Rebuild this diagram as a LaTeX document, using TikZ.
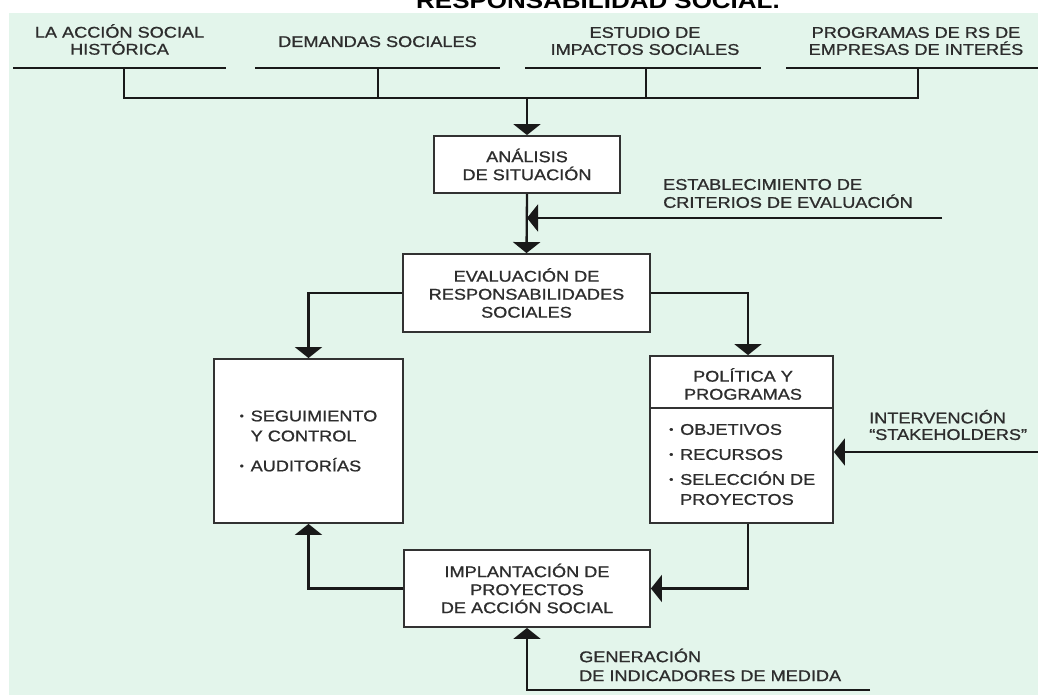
\documentclass[tikz,border=0pt]{standalone}
\usepackage{fontspec}
\setmainfont[FakeStretch=1.17,FakeBold=1]{Liberation Sans}
\newfontfamily\titlefont[FakeStretch=1.17]{Liberation Sans}
\usetikzlibrary{arrows.meta,calc}
\definecolor{bg}{RGB}{227,245,235}
\definecolor{ink}{RGB}{25,25,25}
\definecolor{boxline}{RGB}{50,50,50}
\definecolor{txt}{RGB}{45,45,45}
\newcommand\bul{\makebox[11pt][l]{\raisebox{2pt}{\scalebox{0.65}{•}}}}
\begin{document}
\begin{tikzpicture}[x=1pt,y=-1pt,
  font=\fontsize{15.5}{18}\selectfont, text=txt,
  box/.style={draw=boxline, line width=1.8pt, fill=white, inner sep=0pt, align=center},
  conn/.style={draw=ink, line width=2.3pt},
  arr/.style={conn, -{Triangle[width=27pt,length=11pt]}},
  lbl/.style={align=center, inner sep=0pt},
  toplbl/.style={align=center, inner sep=0pt, font=\fontsize{15.5}{17}\selectfont},
  lbll/.style={align=left, inner sep=0pt, anchor=west}]
\useasboundingbox (0,0) rectangle (1038,695);
\fill[white] (0,0) rectangle (1038,695);
\fill[bg] (9,13) rectangle (1038,695);
\node[anchor=base, inner sep=0pt, font=\titlefont\fontsize{22.2}{24}\selectfont\bfseries, text=black] (title) at (598,9) {RESPONSABILIDAD SOCIAL.};

% top labels
\node[toplbl] (t1) at (119.5,39.5) {LA ACCIÓN SOCIAL\\HISTÓRICA};
\node[toplbl, anchor=base] (t2) at (377.5,47) {DEMANDAS SOCIALES};
\node[toplbl] (t3) at (645,41) {ESTUDIO DE\\IMPACTOS SOCIALES};
\node[toplbl] (t4) at (916,41) {PROGRAMAS DE RS DE\\EMPRESAS DE INTERÉS};

% top lines
\coordinate (l1a) at (13,68);  \coordinate (l1b) at (226,68);
\coordinate (l2a) at (255,68); \coordinate (l2b) at (500,68);
\coordinate (l3a) at (525,68); \coordinate (l3b) at (761,68);
\coordinate (l4a) at (786,68); \coordinate (l4b) at (1038,68);
\coordinate (m1) at (124,68); \coordinate (m2) at (378,68);
\coordinate (m3) at (646,68); \coordinate (m4) at (918,68);
\coordinate (bus) at (0,98);
\draw[conn] (l1a) -- (l1b);
\draw[conn] (l2a) -- (l2b);
\draw[conn] (l3a) -- (l3b);
\draw[conn] (l4a) -- (l4b);

% boxes
\node[box, minimum width=186pt, minimum height=57pt] (ana) at (527,164.5) {ANÁLISIS\\DE SITUACIÓN};
\node[box, minimum width=247pt, minimum height=78pt] (eval) at (526.5,293) {EVALUACIÓN DE\\RESPONSABILIDADES\\SOCIALES};
\node[box, minimum width=189pt, minimum height=164pt, align=left] (seg) at (308.5,441)
  {\bul SEGUIMIENTO\\[2pt]\hspace*{11pt}Y CONTROL\\[12pt]\bul AUDITORÍAS};
\node[box, minimum width=183pt, minimum height=167pt] (pol) at (741.5,439.5) {};
\coordinate (div) at (0,408);
\draw[draw=boxline, line width=1.8pt] (pol.west |- div) -- (pol.east |- div);
\node[lbl] (polh) at (743,384) {POLÍTICA Y\\PROGRAMAS};
\node[lbll] (polb) at (669,464.5) {\bul OBJETIVOS\\[7pt]\bul RECURSOS\\[7pt]\bul SELECCIÓN DE\\[2pt]\hspace*{11pt}PROYECTOS};
\node[box, minimum width=246pt, minimum height=77pt] (impl) at (527,588.5) {IMPLANTACIÓN DE\\PROYECTOS\\DE ACCIÓN SOCIAL};

% side labels
\node[lbll] (est) at (663,193.5) {ESTABLECIMIENTO DE\\CRITERIOS DE EVALUACIÓN};
\node[lbll, font=\fontsize{15.5}{16.5}\selectfont] (interv) at (869,425) {INTERVENCIÓN\\“STAKEHOLDERS”};
\node[lbll, font=\fontsize{15.5}{19}\selectfont] (gen) at (579,665) {GENERACIÓN\\DE INDICADORES DE MEDIDA};

\coordinate (estEnd) at (942,218);
\coordinate (intEnd) at (1038,452);
\coordinate (genEnd) at (870,690);

% connectors
\draw[conn] (m1) -- (m1 |- bus) -- (m4 |- bus) -- (m4);
\draw[conn] (m2) -- (m2 |- bus);
\draw[conn] (m3) -- (m3 |- bus);
\draw[arr] (ana.north |- bus) -- (ana.north);
\draw[arr] (ana.south) -- (eval.north);
\draw[arr] (estEnd) -- (ana.south |- estEnd);
\draw[arr] (eval.west) -| (seg.north);
\draw[arr] (eval.east) -| ($(pol.north)+(6.5,0)$);
\draw[arr] (intEnd) -- (intEnd -| pol.east);
\draw[arr] ($(pol.south)+(6.5,0)$) |- (impl.east);
\draw[arr] (impl.west) -| (seg.south);
\draw[arr] (genEnd) -| (impl.south);
\end{tikzpicture}
\end{document}
